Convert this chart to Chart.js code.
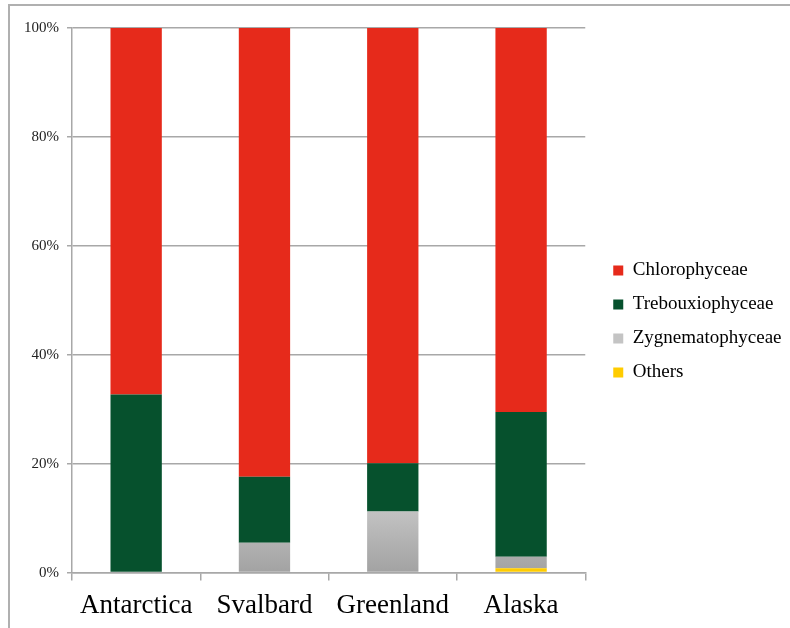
<!DOCTYPE html>
<html>
<head>
<meta charset="utf-8">
<script src="https://cdn.jsdelivr.net/npm/chart.js@4/dist/chart.umd.min.js"></script>
<style>
    body { margin: 0; background: #fff; }
    #wrap { position: relative; width: 790px; height: 628px; }
    #frame {
        position: absolute; left: 8px; top: 4px; right: 0; bottom: 0;
        border-top: 2px solid #b0b0b0; border-left: 2px solid #b0b0b0;
        pointer-events: none;
    }
    canvas { position: absolute; left: 0; top: 0; }
</style>
</head>
<body>
<div id="wrap">
    <canvas id="chart" width="790" height="628"></canvas>
    <div id="frame"></div>
</div>
<script>
// Data (percent of sequences per site)
const sites = ['Antarctica', 'Svalbard', 'Greenland', 'Alaska'];
const others = [0, 0, 0, 0.8];
const zygnematophyceae = [0, 5.5, 11.2, 2.1];
const trebouxiophyceae = [32.7, 12.1, 8.9, 26.6];
const chlorophyceae = [67.3, 82.4, 79.9, 70.5];
const yTicks = [0, 20, 40, 60, 80, 100];

const serif = "'Liberation Serif', 'Times New Roman', serif";

// gray gradient for Zygnematophyceae bars
function grayFill(context) {
    const chart = context.chart;
    const area = chart.chartArea;
    if (!area) return '#b5b5b5';
    const g = chart.ctx.createLinearGradient(0, area.bottom - 65, 0, area.bottom);
    g.addColorStop(0, '#c4c4c4');
    g.addColorStop(1, '#a2a2a2');
    return g;
}

// push the legend a bit further away from the plot and up
const legendShift = {
    id: 'legendShift',
    afterLayout(chart) {
        const lg = chart.legend;
        if (lg) {
            lg.left += 13;
            lg.right += 13;
            lg.top -= 6;
            lg.bottom -= 6;
        }
    }
};

const ctx = document.getElementById('chart').getContext('2d');
new Chart(ctx, {
    type: 'bar',
    data: {
        labels: sites,
        datasets: [
            { label: 'Others', data: others, backgroundColor: '#FFCC00' },
            { label: 'Zygnematophyceae', data: zygnematophyceae, backgroundColor: grayFill },
            { label: 'Trebouxiophyceae', data: trebouxiophyceae, backgroundColor: '#06512D' },
            { label: 'Chlorophyceae', data: chlorophyceae, backgroundColor: '#E62A1B' }
        ]
    },
    plugins: [legendShift],
    options: {
        responsive: false,
        devicePixelRatio: 1,
        animation: false,
        datasets: {
            bar: { barPercentage: 0.4, categoryPercentage: 1.0 }
        },
        layout: { padding: { top: 28, left: 16, right: 15, bottom: 1 } },
        plugins: {
            tooltip: { enabled: false },
            legend: {
                position: 'right',
                reverse: true,
                labels: {
                    boxWidth: 10,
                    boxHeight: 10,
                    padding: 15,
                    color: '#000',
                    font: { family: serif, size: 19 }
                }
            }
        },
        scales: {
            x: {
                stacked: true,
                afterFit: scale => { scale.height -= 4; },
                grid: {
                    offset: true,
                    drawOnChartArea: false,
                    color: '#a8a8a8',
                    lineWidth: 1.5,
                    tickLength: 8
                },
                border: { color: '#a8a8a8', width: 1.5 },
                ticks: {
                    color: '#000',
                    padding: 9,
                    font: { family: serif, size: 27 }
                }
            },
            y: {
                stacked: true,
                min: 0,
                max: 100,
                afterBuildTicks: axis => { axis.ticks = yTicks.map(v => ({ value: v })); },
                grid: {
                    color: '#a8a8a8',
                    lineWidth: 1.5,
                    tickLength: 5
                },
                border: { color: '#a8a8a8', width: 1.5 },
                ticks: {
                    color: '#222',
                    padding: 8,
                    font: { family: serif, size: 15 },
                    callback: v => v + '%'
                }
            }
        }
    }
});
</script>
</body>
</html>
